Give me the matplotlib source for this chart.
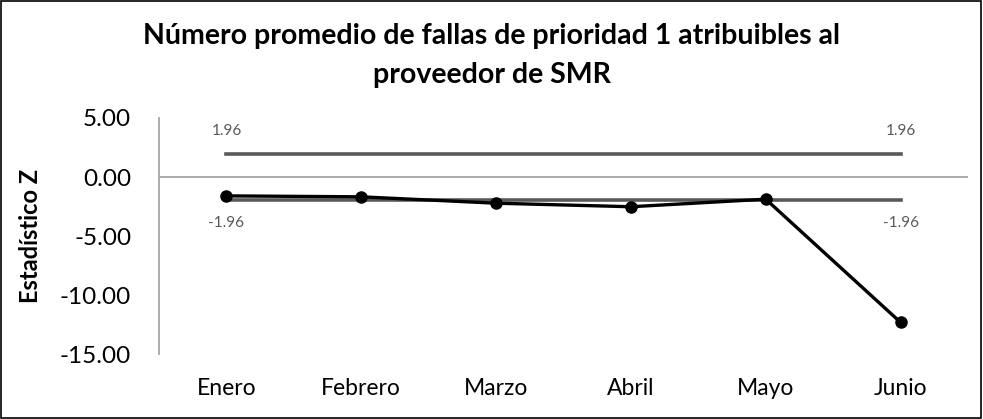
import matplotlib
matplotlib.use("Agg")
import matplotlib.pyplot as plt

months = ["Enero", "Febrero", "Marzo", "Abril", "Mayo", "Junio"]
z_values = [-1.60, -1.68, -2.22, -2.52, -1.88, -12.32]
upper_limit = 1.96
lower_limit = -1.96
y_ticks = [5, 0, -5, -10, -15]

plt.rcParams["font.family"] = ["Lato", "DejaVu Sans"]

fig = plt.figure(figsize=(9.83, 4.19), dpi=100)
ax = fig.add_axes([159 / 983, 1 - 354 / 419, (968 - 159) / 983, (354 - 118) / 419])

x = list(range(len(months)))

# reference lines
ax.axhline(0, color="#a6a6a6", lw=1.3, zorder=1)
ax.plot(x, [upper_limit] * len(x), color="#595959", lw=2.6, zorder=2)
ax.plot(x, [lower_limit] * len(x), color="#595959", lw=2.6, zorder=2)

# series
ax.plot(x, z_values, color="black", lw=2.4, marker="o", ms=8, zorder=3)

# limit labels
for xi in (x[0], x[-1]):
    ax.text(xi, upper_limit + 1.9, f"{upper_limit:.2f}", ha="center", va="center",
            fontsize=11, color="#595959")
    ax.text(xi, lower_limit - 1.9, f"{lower_limit:.2f}", ha="center", va="center",
            fontsize=11, color="#595959")

ax.set_xlim(-0.5, len(months) - 0.5)
ax.set_ylim(-15, 5)
ax.set_yticks(y_ticks)
ax.set_yticklabels([f"{v:.2f}" for v in y_ticks], fontsize=17.5)
ax.set_xticks(x)
ax.set_xticklabels(months, fontsize=16.5)
ax.tick_params(axis="y", length=0, pad=20)
ax.tick_params(axis="x", length=0, pad=17)

for side in ("top", "right", "bottom"):
    ax.spines[side].set_visible(False)
ax.spines["left"].set_color("#a6a6a6")
ax.spines["left"].set_linewidth(1.3)

ax.set_ylabel("Estadístico Z", fontsize=17, fontweight="bold")
ax.yaxis.set_label_coords((42 - 159) / 809, 0.5)

fig.text(0.5, 1 - 36 / 419, "Número promedio de fallas de prioridad 1 atribuibles al",
         ha="center", va="center", fontsize=20.5, fontweight="bold")
fig.text(0.5, 1 - 75 / 419, "proveedor de SMR",
         ha="center", va="center", fontsize=20.5, fontweight="bold")

# chart border
border = plt.Rectangle((0.001, 0.002), 0.997, 0.995, transform=fig.transFigure,
                       fill=False, edgecolor="black", lw=1.2)
fig.patches.append(border)

fig.savefig("out.png", dpi=100)
